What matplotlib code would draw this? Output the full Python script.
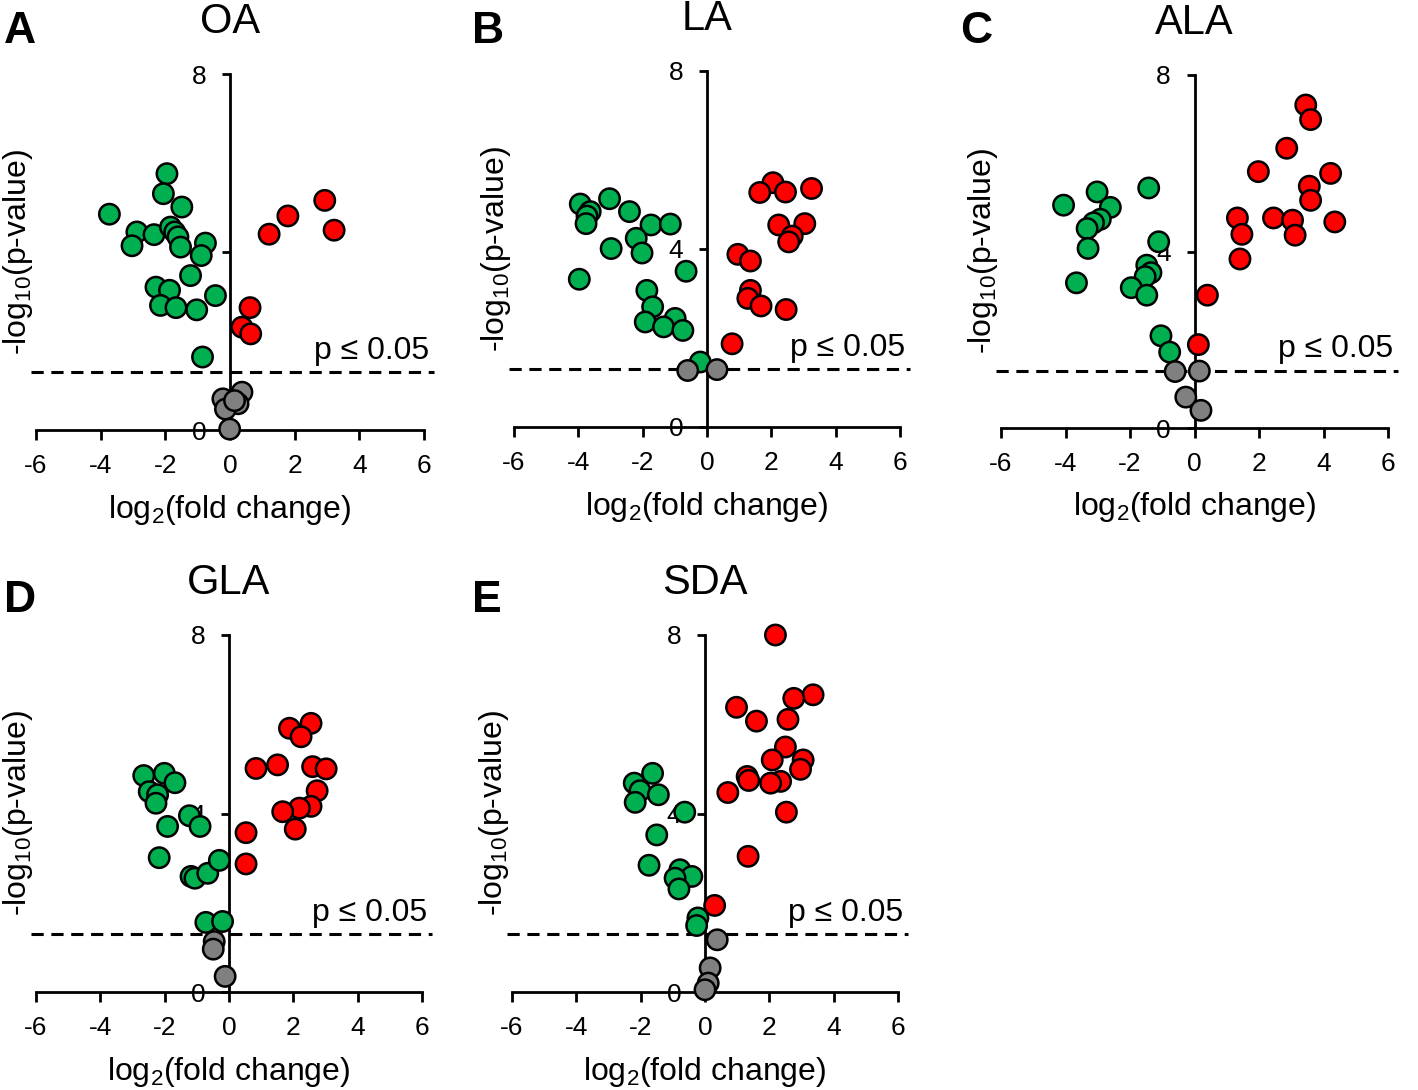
import numpy as np
import matplotlib
matplotlib.use('Agg')
import matplotlib.pyplot as plt

plt.rcParams['font.family'] = ['Liberation Sans', 'DejaVu Sans']
plt.rcParams['mathtext.fontset'] = 'custom'
plt.rcParams['mathtext.rm'] = 'Liberation Sans'
plt.rcParams['mathtext.it'] = 'Liberation Sans'
plt.rcParams['mathtext.default'] = 'regular'
plt.rcParams['axes.unicode_minus'] = False

# log2(fold change) / -log10(p-value)
oa_fc = [-1.95, -2.06, -1.49, -3.73, -2.88, -2.35, -1.84, -1.71, -1.61, -1.53, -3.03,
         -0.76, -0.89, -1.22, -2.29, -1.87, -2.15, -1.67, -1.03, -0.45, -0.85,
         2.93, 1.79, 1.21, 3.22, 0.62, 0.37, 0.64,
         0.37, -0.22, 0.25, -0.14, 0.14, -0.01]
oa_p = [5.76, 5.31, 5.01, 4.85, 4.45, 4.39, 4.56, 4.45, 4.34, 4.11, 4.14,
        4.20, 3.92, 3.47, 3.21, 3.14, 2.80, 2.75, 2.70, 3.02, 1.64,
        5.16, 4.81, 4.40, 4.49, 2.75, 2.31, 2.16,
        0.85, 0.70, 0.59, 0.47, 0.66, 0.02]

la_fc = [-3.94, -3.63, -3.73, -3.76, -3.03, -2.41, -1.74, -1.14, -2.20, -2.02, -2.98,
         -3.97, -0.65, -1.87, -1.69, -1.92, -0.99, -1.35, -0.75, -0.21,
         2.05, 1.64, 2.44, 3.25, 2.23, 3.04, 2.65, 2.54, 0.96, 1.35, 1.35, 1.27,
         1.68, 2.46, 0.78,
         -0.60, 0.31]
la_p = [5.01, 4.84, 4.74, 4.57, 5.13, 4.84, 4.54, 4.56, 4.24, 3.91, 4.01,
        3.32, 3.50, 3.07, 2.70, 2.36, 2.44, 2.25, 2.17, 1.46,
        5.49, 5.27, 5.28, 5.36, 4.54, 4.57, 4.29, 4.16, 3.88, 3.73, 3.07, 2.89,
        2.72, 2.64, 1.87,
        1.27, 1.29]

ala_fc = [-4.06, -3.02, -2.61, -2.92, -3.13, -3.33, -3.30, -1.42, -1.11, -3.66, -1.48,
          -1.35, -1.53, -1.96, -1.48, -1.04, -0.77,
          3.45, 3.60, 2.86, 1.98, 4.22, 3.56, 3.60, 1.33, 1.47, 2.45, 3.04, 3.12,
          4.35, 1.41, 0.40, 0.12,
          -0.60, 0.15, -0.27, 0.20]
ala_p = [5.05, 5.35, 5.00, 4.73, 4.65, 4.52, 4.07, 5.44, 4.22, 3.29, 3.69,
         3.52, 3.43, 3.18, 3.01, 2.09, 1.72,
         7.32, 6.99, 6.34, 5.81, 5.77, 5.48, 5.16, 4.76, 4.39, 4.76, 4.71, 4.37,
         4.67, 3.83, 3.01, 1.89,
         1.28, 1.29, 0.70, 0.40]

gla_fc = [-2.65, -2.01, -1.68, -2.48, -2.22, -2.27, -1.91, -1.23, -0.90, -2.17, -1.18,
          -1.06, -0.66, -0.30, -0.72, -0.20,
          2.55, 1.88, 2.24, 0.84, 1.51, 2.60, 3.02, 2.74, 2.55, 2.19, 1.67, 2.06,
          0.53, 0.53,
          -0.46, -0.49, -0.12]
gla_p = [4.85, 4.90, 4.69, 4.49, 4.42, 4.23, 3.71, 3.95, 3.71, 3.01, 2.59,
         2.55, 2.66, 2.95, 1.56, 1.58,
         6.02, 5.91, 5.72, 5.01, 5.09, 5.05, 5.00, 4.51, 4.16, 4.12, 4.04, 3.65,
         3.57, 2.87,
         1.13, 0.96, 0.35]

sda_fc = [-1.63, -2.20, -2.02, -1.45, -2.17, -0.63, -1.50, -1.74, -0.78, -0.41, -0.93,
          -0.81, -0.22, -0.26,
          2.19, 3.36, 2.76, 0.98, 1.60, 2.58, 2.50, 2.09, 3.05, 2.97, 1.31, 1.36,
          2.35, 2.04, 0.71, 2.53, 1.34, 0.30,
          0.38, 0.16, 0.10, 0.00]
sda_p = [4.90, 4.68, 4.51, 4.42, 4.25, 4.03, 3.52, 2.84, 2.74, 2.59, 2.55,
         2.31, 1.66, 1.49,
         8.00, 6.66, 6.58, 6.38, 6.07, 6.11, 5.49, 5.20, 5.20, 4.99, 4.83, 4.74,
         4.72, 4.68, 4.47, 4.03, 3.04, 1.94,
         1.17, 0.54, 0.20, 0.05]

panels = [('A', 'OA', oa_fc, oa_p), ('B', 'LA', la_fc, la_p), ('C', 'ALA', ala_fc, ala_p),
          ('D', 'GLA', gla_fc, gla_p), ('E', 'SDA', sda_fc, sda_p)]

# axes boxes in pixels: left, right, top, bottom
boxes = [(36, 424, 74, 430), (514, 900, 71, 427), (1001, 1388, 75, 428),
         (36, 422, 635, 992), (512, 898, 635, 992)]
letter_pos = [(4, 43), (472, 43), (960, 43), (4, 612), (472, 612)]

W, H = 1418, 1090
thresh = -np.log10(0.05)

fig = plt.figure(figsize=(W / 100, H / 100), dpi=100)

for (letter, name, fc, p), (l, r, t, b), (lx, ly) in zip(panels, boxes, letter_pos):
    ax = fig.add_axes([l / W, 1 - b / H, (r - l) / W, (b - t) / H])
    fc = np.array(fc)
    p = np.array(p)
    cols = np.where(p < thresh, '#808080', np.where(fc < 0, '#00B050', '#FF0000'))
    ax.scatter(fc, p, s=215, c=list(cols), edgecolors='black', linewidths=1.8,
               zorder=2, clip_on=False)
    ax.plot([-6.15, 6.3], [thresh, thresh], color='black', lw=2.2, dashes=(4, 2.5),
            zorder=1.5, clip_on=False)
    ax.text(6.15, 1.6, 'p ≤ 0.05', ha='right', va='baseline', fontsize=23)

    ax.set_xlim(-6, 6)
    ax.set_ylim(0, 8)
    ax.spines['top'].set_visible(False)
    ax.spines['right'].set_visible(False)
    ax.spines['left'].set_position(('data', 0))
    for s in ('left', 'bottom'):
        ax.spines[s].set_linewidth(2)
        ax.spines[s].set_zorder(1)
    ax.set_xticks([-6, -4, -2, 0, 2, 4, 6])
    ax.set_yticks([0, 4, 8])
    ax.tick_params(axis='x', direction='out', length=7, width=2, pad=10, labelsize=19)
    ax.tick_params(axis='y', direction='out', length=6, width=2, pad=11, labelsize=19)
    ax.patch.set_visible(False)

    ax.text(0.5, -0.225, r'log$_2$(fold change)', transform=ax.transAxes,
            ha='center', va='center', fontsize=23)
    ax.text(-0.046, 0.5, r'-log$_{10}$(p-value)', transform=ax.transAxes,
            ha='center', va='center', rotation=90, fontsize=23)
    ax.text(0.5, 1.115, name, transform=ax.transAxes, ha='center', va='baseline',
            fontsize=30)
    fig.text(lx / W, 1 - ly / H, letter, ha='left', va='baseline', fontsize=32,
             fontweight='bold')

fig.savefig('out.png', dpi=100)
